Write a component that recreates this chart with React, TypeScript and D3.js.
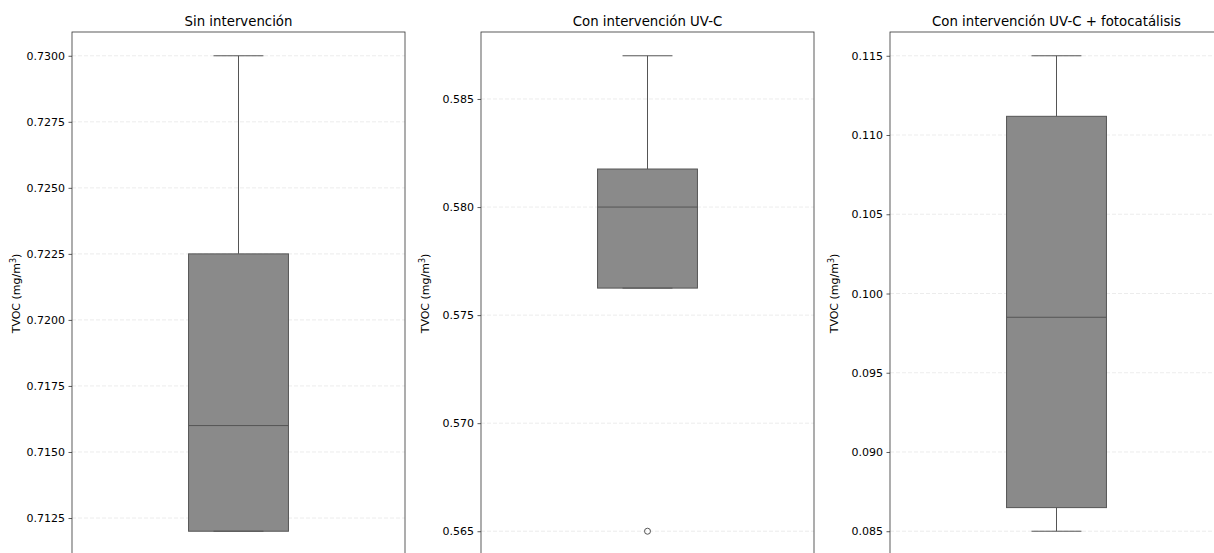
import React, { useEffect, useRef } from 'react';
import * as d3 from 'd3';

const panelTitles = ['Sin intervención', 'Con intervención UV-C', 'Con intervención UV-C + fotocatálisis'];
const whiskerLow = [0.712, 0.57625, 0.085];
const q1 = [0.712, 0.57625, 0.08649];
const median = [0.716, 0.58, 0.0985];
const q3 = [0.7225, 0.58176, 0.11118];
const whiskerHigh = [0.73, 0.587, 0.115];
const outliers = [[], [0.565], []];
const yTicks = [
    [0.7125, 0.715, 0.7175, 0.72, 0.7225, 0.725, 0.7275, 0.73],
    [0.565, 0.57, 0.575, 0.58, 0.585],
    [0.085, 0.09, 0.095, 0.1, 0.105, 0.11, 0.115],
];
const tickFormats = ['.4f', '.3f', '.3f'];

export default function App() {
    const ref = useRef<SVGSVGElement>(null);
    const width = 1214;
    const height = 553;
    const panelLefts = [72, 481, 890];
    const panelWidth = 333;
    const top = 32;
    const bottom = 555;

    useEffect(() => {
        const svg = d3.select(ref.current);
        svg.selectAll('*').remove();
        const font = 'DejaVu Sans, sans-serif';

        panelTitles.forEach((title, i) => {
            const lo = Math.min(whiskerLow[i], ...outliers[i]);
            const hi = Math.max(whiskerHigh[i], ...outliers[i]);
            const pad = (hi - lo) * 0.05;
            const y = d3.scaleLinear().domain([lo - pad, hi + pad]).range([bottom, top]);
            const x = d3.scaleLinear().domain([-0.5, 0.5]).range([0, panelWidth]);

            const g = svg.append('g').attr('transform', `translate(${panelLefts[i]},0)`);

            // grid
            g.selectAll('.grid')
                .data(yTicks[i])
                .enter()
                .append('line')
                .attr('x1', 0)
                .attr('x2', panelWidth)
                .attr('y1', d => y(d))
                .attr('y2', d => y(d))
                .attr('stroke', '#b0b0b0')
                .attr('stroke-opacity', 0.3)
                .attr('stroke-dasharray', '4,2')
                .attr('stroke-width', 0.8);

            const cx = x(0);
            const bw = x(0.15) - x(-0.15);
            const cw = bw / 2;

            // whiskers
            g.append('line')
                .attr('x1', cx).attr('x2', cx)
                .attr('y1', y(q3[i])).attr('y2', y(whiskerHigh[i]))
                .attr('stroke', '#555').attr('stroke-width', 1);
            g.append('line')
                .attr('x1', cx).attr('x2', cx)
                .attr('y1', y(q1[i])).attr('y2', y(whiskerLow[i]))
                .attr('stroke', '#555').attr('stroke-width', 1);

            // box
            g.append('rect')
                .attr('x', cx - bw / 2)
                .attr('y', y(q3[i]))
                .attr('width', bw)
                .attr('height', y(q1[i]) - y(q3[i]))
                .attr('fill', '#8a8a8a')
                .attr('stroke', '#555')
                .attr('stroke-width', 1);

            // median
            g.append('line')
                .attr('x1', cx - bw / 2).attr('x2', cx + bw / 2)
                .attr('y1', y(median[i])).attr('y2', y(median[i]))
                .attr('stroke', '#555').attr('stroke-width', 1);

            // caps
            [whiskerLow[i], whiskerHigh[i]].forEach(v => {
                g.append('line')
                    .attr('x1', cx - cw / 2).attr('x2', cx + cw / 2)
                    .attr('y1', y(v)).attr('y2', y(v))
                    .attr('stroke', '#555').attr('stroke-width', 1);
            });

            // outliers
            g.selectAll('.out')
                .data(outliers[i])
                .enter()
                .append('circle')
                .attr('cx', cx)
                .attr('cy', d => y(d))
                .attr('r', 3)
                .attr('fill', 'none')
                .attr('stroke', '#555')
                .attr('stroke-width', 1);

            // spines
            g.append('rect')
                .attr('x', 0).attr('y', top)
                .attr('width', panelWidth).attr('height', bottom - top)
                .attr('fill', 'none')
                .attr('stroke', '#333')
                .attr('stroke-width', 0.8);

            // y axis
            const axis = d3.axisLeft(y)
                .tickValues(yTicks[i])
                .tickFormat(d3.format(tickFormats[i]))
                .tickSize(3.5)
                .tickPadding(3.5);
            const ag = g.append('g').call(axis);
            ag.select('.domain').remove();
            ag.selectAll('line').attr('stroke', '#333').attr('stroke-width', 0.8);
            ag.selectAll('text')
                .attr('fill', '#000')
                .style('font-family', font)
                .style('font-size', '11px');

            // title
            g.append('text')
                .attr('x', panelWidth / 2)
                .attr('y', 26)
                .attr('text-anchor', 'middle')
                .style('font-family', font)
                .style('font-size', '13.3px')
                .text(title);

            // y label
            const lbl = g.append('text')
                .attr('transform', `translate(${-52},${(top + bottom) / 2}) rotate(-90)`)
                .attr('text-anchor', 'middle')
                .style('font-family', font)
                .style('font-size', '11px');
            lbl.append('tspan').text('TVOC (mg/m');
            lbl.append('tspan').attr('dy', -4).style('font-size', '8px').text('3');
            lbl.append('tspan').attr('dy', 4).text(')');
        });
    }, []);

    return (
        <div style={{ position: 'fixed', left: 0, top: 0 }}>
            <svg ref={ref} width={width} height={height} style={{ display: 'block', background: '#fff' }}></svg>
        </div>
    );
}
